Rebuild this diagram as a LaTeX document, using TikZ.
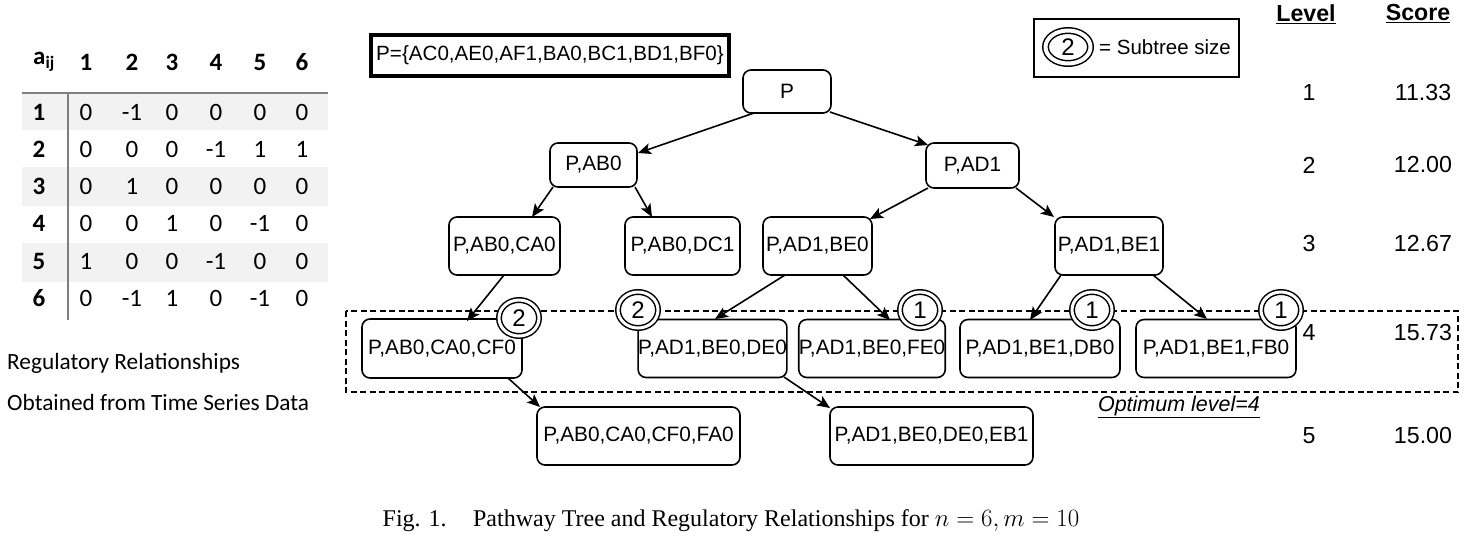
\documentclass[tikz,border=0pt]{standalone}
\usepackage[no-math]{fontspec}
\setmainfont{Liberation Serif}
\newfontfamily\arialf{Liberation Sans}
\newfontfamily\calibf{Carlito}
\usetikzlibrary{arrows.meta,calc,shapes.geometric}
\definecolor{bandgray}{HTML}{F2F2F2}
\definecolor{rulegray}{HTML}{7F7F7F}
\begin{document}
\begin{tikzpicture}[x=1pt,y=-1pt,
  treebox/.style={draw, line width=1.6pt, rounded corners=8pt, fill=white,
    inner sep=0pt, font=\arialf\fontsize{20.8}{23}\selectfont},
  subc/.style={ellipse, draw, line width=1.5pt, double, double distance=3pt,
    fill=white, inner sep=0pt, minimum width=40pt, minimum height=36pt,
    font=\arialf\fontsize{24}{26}\selectfont},
  arr/.style={line width=1.6pt, -{Stealth[length=13pt,width=11pt,inset=3pt]}},
  tabtxt/.style={font=\calibf\fontsize{25}{27}\selectfont, inner sep=0pt},
  tabbold/.style={font=\calibf\bfseries\fontsize{25}{27}\selectfont, inner sep=0pt},
  sidetxt/.style={font=\calibf\fontsize{23.3}{26}\selectfont, inner sep=0pt, anchor=west},
  lvltxt/.style={font=\arialf\fontsize{23.2}{25}\selectfont, inner sep=0pt}
]
\useasboundingbox (0,0) rectangle (1472,542);

% ---------------- table ----------------
\fill[bandgray] (22,92) rectangle (328,130);
\fill[bandgray] (22,167) rectangle (328,206);
\fill[bandgray] (22,243) rectangle (328,282);
\draw[rulegray, line width=1.2pt] (22,93) -- (328,93);
\draw[rulegray, line width=1.2pt] (68,93) -- (68,320);
\node[tabbold] (hdr) at (44,62) {a\textsubscript{ij}};
\foreach \c/\x in {1/86,2/132,3/172,4/216,5/260,6/302}
  \node[tabbold] (col\c) at (\x,62) {\c};
\foreach \r/\y/\vals in {1/112/{0,-1,0,0,0,0}, 2/149/{0,0,0,-1,1,1},
  3/186/{0,1,0,0,0,0}, 4/223/{0,0,1,0,-1,0}, 5/261/{1,0,0,-1,0,0},
  6/298/{0,-1,1,0,-1,0}}{
  \node[tabbold] (row\r) at (39,\y) {\r};
  \foreach \v [count=\c] in \vals {
    \pgfmathsetmacro{\xx}{{86,132,172,216,260,302}[\c-1]}
    \node[tabtxt] (v\r-\c) at (\xx,\y) {\v};
  }
}
\node[sidetxt] (reg) at (7,363) {Regulatory Relationships};
\node[sidetxt] (obt) at (7,402) {Obtained from Time Series Data};

% ---------------- top boxes ----------------
\node[draw, line width=4pt, inner sep=0pt, minimum width=358pt, minimum height=41pt,
  font=\arialf\fontsize{20.6}{23}\selectfont] (pset) at (550,55.5)
  {P=\{AC0,AE0,AF1,BA0,BC1,BD1,BF0\}};
\node[draw, line width=2.5pt, inner sep=0pt, minimum width=205pt, minimum height=58pt]
  (legend) at (1136.5,48) {};
\node[subc, double distance=4pt, minimum width=45pt, minimum height=33pt] (lgc) at (1068,47) {2};
\node[font=\arialf\fontsize{20.5}{24}\selectfont, inner sep=0pt, anchor=west] (lgt)
  at (1099,47) {= Subtree size};

% ---------------- level / score ----------------
\node[lvltxt, font=\arialf\bfseries\fontsize{23.2}{25}\selectfont] (lvlh) at (1306,14) {\underline{Level}};
\node[lvltxt, font=\arialf\bfseries\fontsize{23.2}{25}\selectfont] (scoh) at (1418,14) {\underline{Score}};
\foreach \l/\y/\s in {1/93/11.33, 2/165/12.00, 3/244/12.67, 4/333/15.73, 5/436/15.00}{
  \node[lvltxt] (lv\l) at (1309,\y) {\l};
  \node[lvltxt] (sc\l) at (1423,\y) {\s};
}

% ---------------- optimum box ----------------
\draw[line width=2.4pt, dash pattern=on 6pt off 3.5pt] (346,311) rectangle (1458,392);
\node[font=\arialf\itshape\fontsize{21.5}{24}\selectfont, inner sep=0pt] (opt)
  at (1179,407) {\underline{Optimum level=4}};

% ---------------- tree nodes ----------------
\node[treebox, minimum width=88pt, minimum height=43pt] (P) at (787,91.5) {P};
\node[treebox, minimum width=87pt, minimum height=44pt] (AB0) at (593.5,165) {P,AB0};
\node[treebox, minimum width=93pt, minimum height=45pt] (AD1) at (972.5,165.5) {P,AD1};
\node[treebox, minimum width=111pt, minimum height=58pt] (CA0) at (504.5,246) {P,AB0,CA0};
\node[treebox, minimum width=115pt, minimum height=58pt] (DC1) at (682.5,246) {P,AB0,DC1};
\node[treebox, minimum width=109pt, minimum height=58pt] (BE0) at (817.5,246) {P,AD1,BE0};
\node[treebox, minimum width=108pt, minimum height=58pt] (BE1) at (1109,246) {P,AD1,BE1};
\node[treebox, minimum width=160pt, minimum height=59pt] (CF0) at (442,348.5) {P,AB0,CA0,CF0};
\node[treebox, minimum width=147pt, minimum height=58pt] (DE0) at (712.5,348.5) {P,AD1,BE0,DE0};
\node[treebox, minimum width=146pt, minimum height=58pt] (FE0) at (872,348.5) {P,AD1,BE0,FE0};
\node[treebox, minimum width=160pt, minimum height=58pt] (DB0) at (1040,348.5) {P,AD1,BE1,DB0};
\node[treebox, minimum width=160pt, minimum height=58pt] (FB0) at (1216,348.5) {P,AD1,BE1,FB0};
\node[treebox, minimum width=203pt, minimum height=58pt] (FA0) at (638.5,436) {P,AB0,CA0,CF0,FA0};
\node[treebox, minimum width=203pt, minimum height=58pt] (EB1) at (931.5,436) {P,AD1,BE0,DE0,EB1};

% ---------------- connectors ----------------
\draw[arr] ($(P)+(-33,21.5)$) -- ($(AB0)+(44.5,-12)$);
\draw[arr] ($(P)+(43,20.5)$) -- ($(AD1)+(-44.5,-20.5)$);
\draw[arr] ($(AB0)+(-40.5,22)$) -- ($(CA0)+(27.5,-29)$);
\draw[arr] ($(AB0)+(41.5,22)$) -- ($(DC1)+(-30.5,-29)$);
\draw[arr] ($(AD1)+(-44.5,22.5)$) -- ($(BE0)+(52.5,-27)$);
\draw[arr] ($(AD1)+(43.5,22.5)$) -- ($(BE1)+(-55,-29)$);
\draw[arr] ($(CA0)+(-0.5,29)$) -- ($(CF0)+(25,-27.5)$);
\draw[arr] ($(BE0)+(-32.5,29)$) -- ($(DE0)+(2.5,-29.5)$);
\draw[arr] ($(BE0)+(25.5,29)$) -- ($(FE0)+(18,-28.5)$);
\draw[arr] ($(BE1)+(-48,29)$) -- ($(DB0)+(-10,-28.5)$);
\draw[arr] ($(BE1)+(44,29)$) -- ($(FB0)+(-9,-29.5)$);
\draw[arr] ($(CF0)+(66,29.5)$) -- ($(FA0)+(-98.5,-29)$);
\draw[arr] ($(DE0)+(71.5,28.5)$) -- ($(EB1)+(-101.5,-28)$);

% ---------------- subtree size circles ----------------
\node[subc] (s1) at (519,318) {2};
\node[subc] (s2) at (638,310) {2};
\node[subc] (s3) at (920,310) {1};
\node[subc] (s4) at (1092,310) {1};
\node[subc] (s5) at (1281,310) {1};

% ---------------- caption ----------------
\node[font=\fontsize{24}{26}\selectfont, inner sep=0pt] (cap) at (731,521)
  {Fig. 1.\hspace{1.1em}Pathway Tree and Regulatory Relationships for $n=6, m=10$};
\end{tikzpicture}
\end{document}
